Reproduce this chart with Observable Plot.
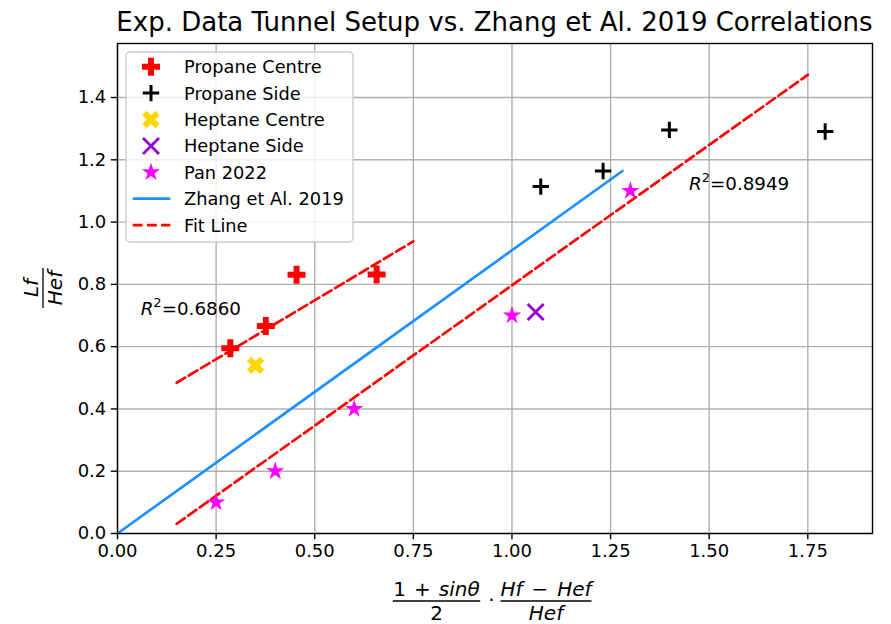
<!DOCTYPE html>
<html><head><meta charset="utf-8">
<script src="https://cdn.jsdelivr.net/npm/d3@7"></script>
<script src="https://cdn.jsdelivr.net/npm/@observablehq/plot@0.6"></script>
<style>
body{margin:0;background:#fff}
#chart svg{font-family:"DejaVu Sans";display:block}
</style>
</head><body><div id="chart"></div><script>
// ---- data ----
const propaneCentreX = [0.286, 0.376, 0.454, 0.657];
const propaneCentreY = [0.595, 0.666, 0.831, 0.832];
const propaneSideX = [1.073, 1.231, 1.399, 1.794];
const propaneSideY = [1.114, 1.164, 1.296, 1.291];
const heptaneCentreX = [0.35];
const heptaneCentreY = [0.54];
const heptaneSideX = [1.06];
const heptaneSideY = [0.711];
const panX = [0.25, 0.40, 0.60, 1.00, 1.30];
const panY = [0.10, 0.20, 0.40, 0.70, 1.10];
const zhangX = [0, 1.28];
const zhangY = [0, 1.164];
const fitCentreX = [0.15, 0.75];
const fitCentreY = [0.484, 0.938];
const fitPanX = [0.15, 1.75];
const fitPanY = [0.031, 1.473];
const r2Text = ["0.6860", "0.8949"];
const r2X = [0.06, 1.45];
const r2Y = [0.70, 1.10];
const xTicks = [0, 0.25, 0.5, 0.75, 1.0, 1.25, 1.5, 1.75];
const yTicks = [0, 0.2, 0.4, 0.6, 0.8, 1.0, 1.2, 1.4];
const legendLabels = ["Propane Centre", "Propane Side", "Heptane Centre", "Heptane Side", "Pan 2022", "Zhang et Al. 2019", "Fit Line"];
const titleText = "Exp. Data Tunnel Setup vs. Zhang et Al. 2019 Correlations";

const pts = (X, Y) => X.map((x, i) => ({x, y: Y[i]}));

// ---- marker shapes ----
function plusPts(r) { const w = r / 3; return [[-w,-r],[w,-r],[w,-w],[r,-w],[r,w],[w,w],[w,r],[-w,r],[-w,w],[-r,w],[-r,-w],[-w,-w]]; }
const filledPlus = {draw(ctx, size) { const r = Math.sqrt(size / Math.PI); const p = plusPts(r); ctx.moveTo(...p[0]); p.slice(1).forEach(q => ctx.lineTo(...q)); ctx.closePath(); }};
const filledX = {draw(ctx, size) { const r = Math.sqrt(size / Math.PI); const c = Math.SQRT1_2; const p = plusPts(r).map(([a,b]) => [c*(a-b), c*(a+b)]); ctx.moveTo(...p[0]); p.slice(1).forEach(q => ctx.lineTo(...q)); ctx.closePath(); }};
const thinPlus = {draw(ctx, size) { const r = Math.sqrt(size / Math.PI); ctx.moveTo(-r,0); ctx.lineTo(r,0); ctx.moveTo(0,-r); ctx.lineTo(0,r); }};
const thinX = {draw(ctx, size) { const r = Math.sqrt(size / Math.PI); ctx.moveTo(-r,-r); ctx.lineTo(r,r); ctx.moveTo(-r,r); ctx.lineTo(r,-r); }};
const star = {draw(ctx, size) { const r = Math.sqrt(size / Math.PI); const ri = r * 0.381966; for (let i = 0; i < 10; i++) { const a = -Math.PI/2 + i*Math.PI/5; const rr = i % 2 ? ri : r; const px = rr*Math.cos(a), py = rr*Math.sin(a); if (i) ctx.lineTo(px, py); else ctx.moveTo(px, py); } ctx.closePath(); }};

const RED = "#ff0000", BLUE = "#1e90ff", GOLD = "#ffd700", VIOLET = "#9400d3", MAG = "#ff00ff";
const LW = 2.7, DASH = "9.9,4.3";
const markerStyles = [
  {symbol: filledPlus, r: 9, fill: RED, stroke: "none"},
  {symbol: thinPlus, r: 8.2, fill: "none", stroke: "black", strokeWidth: 3},
  {symbol: filledX, r: 9.2, fill: GOLD, stroke: "none"},
  {symbol: thinX, r: 8, fill: "none", stroke: VIOLET, strokeWidth: 2.8},
  {symbol: star, r: 9.6, fill: MAG, stroke: "none"}
];
const series = [pts(propaneCentreX, propaneCentreY), pts(propaneSideX, propaneSideY), pts(heptaneCentreX, heptaneCentreY), pts(heptaneSideX, heptaneSideY), pts(panX, panY)];

const plot = Plot.plot({
  width: 891, height: 624,
  marginLeft: 117, marginRight: 19, marginTop: 43, marginBottom: 91,
  style: {fontFamily: "DejaVu Sans", fontSize: "18px", background: "white", color: "black", overflow: "visible"},
  x: {domain: [0, 1.914]},
  y: {domain: [0, 1.5735]},
  marks: [
    Plot.gridX(xTicks, {stroke: "#b0b0b0", strokeOpacity: 1, strokeWidth: 1.4}),
    Plot.gridY(yTicks, {stroke: "#b0b0b0", strokeOpacity: 1, strokeWidth: 1.4}),
    Plot.line(pts(zhangX, zhangY), {x: "x", y: "y", stroke: BLUE, strokeWidth: LW}),
    Plot.line(pts(fitCentreX, fitCentreY), {x: "x", y: "y", stroke: RED, strokeWidth: LW, strokeDasharray: DASH}),
    Plot.line(pts(fitPanX, fitPanY), {x: "x", y: "y", stroke: RED, strokeWidth: LW, strokeDasharray: DASH}),
    ...series.map((d, i) => Plot.dot(d, {x: "x", y: "y", ...markerStyles[i]})),
    Plot.frame({stroke: "black", strokeWidth: 1.4}),
    Plot.axisX(xTicks, {tickFormat: d => d.toFixed(2), tickSize: 6.2, tickPadding: 5, fontSize: 18, label: null, strokeWidth: 1.4}),
    Plot.axisY(yTicks, {tickFormat: d => d.toFixed(1), tickSize: 6.2, tickPadding: 5, fontSize: 18, label: null, strokeWidth: 1.4})
  ]
});
document.getElementById("chart").append(plot);

const svg = d3.select(plot);
const sx = plot.scale("x"), sy = plot.scale("y");
const frameLeft = 117, frameRight = 891 - 19;

// title
svg.append("text").attr("x", (frameLeft + frameRight) / 2).attr("y", 31).attr("text-anchor", "middle")
  .attr("font-size", 26).attr("fill", "black").text(titleText);

// R^2 annotations
r2Text.forEach((t, i) => {
  const tx = svg.append("text").attr("x", sx.apply(r2X[i])).attr("y", sy.apply(r2Y[i])).attr("text-anchor", "start").attr("font-size", 18.3).attr("fill", "black");
  tx.append("tspan").attr("font-style", "italic").text("R");
  tx.append("tspan").attr("font-size", 13).attr("dy", -8).text("2");
  tx.append("tspan").attr("dy", 8).text("=" + t);
});

// legend
const lg = svg.append("g").attr("text-anchor", "start");
lg.append("rect").attr("x", 126).attr("y", 52).attr("width", 227).attr("height", 190).attr("rx", 4)
  .attr("fill", "white").attr("fill-opacity", 0.8).attr("stroke", "#cccccc").attr("stroke-width", 1.4);
legendLabels.forEach((lab, i) => {
  const yy = 66.7 + i * 26.4;
  if (i < 5) {
    const m = markerStyles[i];
    lg.append("path").attr("transform", `translate(151,${yy})`)
      .attr("d", d3.symbol().type(m.symbol).size(m.r * m.r * Math.PI)())
      .attr("fill", m.fill).attr("stroke", m.stroke).attr("stroke-width", m.strokeWidth || 0);
  } else {
    lg.append("line").attr("x1", 132.7).attr("x2", 170.3).attr("y1", yy).attr("y2", yy)
      .attr("stroke", i === 5 ? BLUE : RED).attr("stroke-width", LW).attr("stroke-dasharray", i === 6 ? DASH : null);
  }
  lg.append("text").attr("x", 184).attr("y", yy).attr("dy", "0.36em").attr("font-size", 17.8).attr("fill", "black").text(lab);
});

// fraction helper for math labels
function frac(g, cx, numParts, denParts, half) {
  const n = g.append("text").attr("x", cx).attr("y", -5).attr("text-anchor", "middle");
  numParts.forEach(([t, it, dx]) => n.append("tspan").attr("font-style", it ? "italic" : null).attr("dx", dx || null).text(t));
  g.append("line").attr("x1", cx - half).attr("x2", cx + half).attr("y1", 0).attr("y2", 0).attr("stroke", "black").attr("stroke-width", 1.3);
  const d = g.append("text").attr("x", cx).attr("y", 19).attr("text-anchor", "middle");
  denParts.forEach(([t, it, dx]) => d.append("tspan").attr("font-style", it ? "italic" : null).attr("dx", dx || null).text(t));
}
// x label: (1 + sinθ)/2 · (Hf − Hef)/Hef
const xg = svg.append("g").attr("font-size", 20).attr("fill", "black").attr("transform", "translate(0,601)");
frac(xg, 436.5, [["1", false], ["+", false, 8], ["sinθ", true, 8]], [["2", false]], 43.7);
xg.append("text").attr("x", 491.5).attr("y", 6).attr("text-anchor", "middle").text("·");
frac(xg, 546, [["Hf", true], ["−", false, 9], ["Hef", true, 9]], [["Hef", true]], 45.5);

// y label: Lf / Hef rotated
const yg = svg.append("g").attr("font-size", 20).attr("fill", "black").attr("transform", "translate(43,288) rotate(-90)");
frac(yg, 0, [["Lf", true]], [["Hef", true]], 20);
</script></body></html>
